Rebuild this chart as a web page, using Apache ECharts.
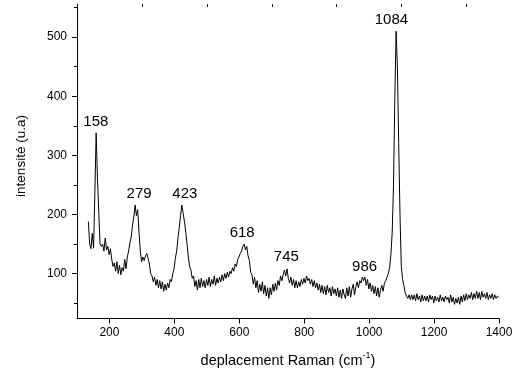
<!DOCTYPE html>
<html>
<head>
<meta charset="utf-8">
<script src="https://cdn.jsdelivr.net/npm/echarts@6/dist/echarts.min.js"></script>
<style>
  html, body { margin: 0; padding: 0; background: #fff; }
  #chart { width: 522px; height: 373px; }
</style>
</head>
<body>
<div id="chart"></div>
<script>
// Raman spectrum: sampled every RAMAN_STEP cm-1 starting at RAMAN_START
const RAMAN_START = 135;
const RAMAN_STEP = 4;
const intensity = [
  188, 150, 142, 168, 143, 235, 338, 262, 205, 150,
  146, 150, 138, 160, 140, 146, 132, 142, 124, 112,
  118, 104, 120, 100, 114, 98, 110, 104, 124, 108,
  128, 138, 152, 162, 182, 196, 216, 198, 208, 170,
  138, 120, 128, 122, 130, 134, 126, 116, 100, 96,
  86, 94, 80, 90, 76, 88, 74, 86, 70, 82,
  72, 84, 76, 90, 86, 100, 108, 126, 138, 160,
  178, 198, 216, 202, 188, 170, 150, 128, 112, 106,
  92, 96, 78, 88, 72, 90, 76, 92, 78, 88,
  76, 90, 80, 94, 78, 90, 82, 96, 80, 92,
  84, 94, 86, 98, 88, 100, 92, 102, 94, 104,
  100, 110, 104, 116, 112, 124, 128, 134, 138, 146,
  150, 140, 146, 130, 122, 102, 98, 82, 94, 76,
  88, 68, 82, 70, 86, 66, 80, 62, 76, 58,
  76, 64, 82, 70, 84, 72, 88, 80, 96, 88,
  98, 106, 96, 108, 92, 84, 94, 80, 90, 76,
  88, 76, 86, 78, 90, 82, 92, 84, 96, 88,
  92, 82, 90, 78, 88, 76, 84, 72, 82, 68,
  80, 66, 78, 64, 80, 68, 76, 62, 78, 66,
  74, 62, 76, 60, 72, 58, 74, 64, 58, 76,
  62, 78, 60, 74, 82, 64, 78, 86, 76, 88,
  84, 94, 88, 94, 80, 90, 74, 84, 70, 80,
  66, 78, 62, 76, 60, 72, 80, 70, 84, 88,
  94, 100, 110, 132, 170, 250, 395, 510, 450, 320,
  200, 112, 90, 80, 68, 62, 58, 64, 56, 64,
  56, 64, 54, 66, 56, 62, 52, 64, 54, 62,
  54, 62, 52, 64, 56, 62, 50, 62, 54, 60,
  52, 64, 54, 60, 52, 62, 56, 60, 50, 64,
  52, 60, 48, 58, 50, 60, 48, 62, 52, 64,
  54, 66, 56, 64, 58, 68, 56, 66, 58, 70,
  58, 68, 56, 70, 60, 66, 58, 68, 56, 64,
  58, 66, 56, 64, 58, 62, 60
];

// Annotated band positions (cm-1) and the intensity at each band top
const peakPositions = [158, 279, 423, 618, 745, 986, 1084];
const peakIntensity = [338, 216, 216, 150, 108, 92, 510];

// Axis ticks
const xMajorTicks = [200, 400, 600, 800, 1000, 1200, 1400];
const xMinorTicks = [100, 300, 500, 700, 900, 1100, 1300];
const yMajorTicks = [100, 200, 300, 400, 500];
const yMinorTicks = [50, 150, 250, 350, 450, 550];

const FONT = 'Liberation Sans, Arial, sans-serif';

const spectrum = intensity.map((v, i) => [RAMAN_START + i * RAMAN_STEP, v]);
const peakLabelShift = [0, 4, 3, -3, 0, 0, -5];
const peaks = peakPositions.map((p, i) => ({
  value: [p, peakIntensity[i]],
  label: { offset: [peakLabelShift[i], 0] }
}));

const X_MIN = 100, X_MAX = 1400, Y_MIN = 24, Y_MAX = 551;

const axisBase = {
  type: 'value',
  splitLine: { show: false },
  axisLine: { show: true, onZero: false, lineStyle: { color: '#000', width: 1 } }
};
const plainNumber = (v) => String(v);

const chart = echarts.init(document.getElementById('chart'), null, { renderer: 'canvas' });
chart.setOption({
  animation: false,
  backgroundColor: '#fff',
  grid: { left: 77, right: 23, top: 7, bottom: 52, containLabel: false },
  xAxis: [
    Object.assign({}, axisBase, {
      min: X_MIN, max: X_MAX,
      axisTick: { show: true, inside: false, length: 5, customValues: xMajorTicks, lineStyle: { color: '#000' } },
      axisLabel: { show: true, customValues: xMajorTicks, formatter: plainNumber, margin: 8, color: '#000', fontSize: 12, fontFamily: FONT },
      name: '{t|deplacement Raman (cm}{s|-1}{t|)}',
      nameLocation: 'middle',
      nameGap: 33,
      nameTextStyle: {
        rich: {
          t: { fontSize: 14.5, fontFamily: FONT, color: '#000', lineHeight: 18 },
          s: { fontSize: 9, fontFamily: FONT, color: '#000', lineHeight: 9, verticalAlign: 'top' }
        }
      }
    }),
    Object.assign({}, axisBase, {
      min: X_MIN, max: X_MAX,
      axisLine: { show: false, onZero: false },
      axisTick: { show: true, inside: false, length: 3, customValues: xMinorTicks, lineStyle: { color: '#000' } },
      axisLabel: { show: false }
    })
  ],
  yAxis: [
    Object.assign({}, axisBase, {
      min: Y_MIN, max: Y_MAX,
      axisTick: { show: true, inside: false, length: 5, customValues: yMajorTicks, lineStyle: { color: '#000' } },
      axisLabel: { show: true, customValues: yMajorTicks, formatter: plainNumber, margin: 10, color: '#000', fontSize: 12, fontFamily: FONT }
    }),
    Object.assign({}, axisBase, {
      position: 'left',
      min: Y_MIN, max: Y_MAX,
      axisLine: { show: false, onZero: false },
      axisTick: { show: true, inside: false, length: 3, customValues: yMinorTicks, lineStyle: { color: '#000' } },
      axisLabel: { show: false }
    })
  ],
  graphic: [{
    type: 'text',
    x: 21, y: 156,
    rotation: Math.PI / 2,
    style: {
      text: 'intensité (u.a)',
      fill: '#000',
      font: '13.5px ' + FONT,
      textAlign: 'center',
      textVerticalAlign: 'middle'
    }
  }],
  series: [
    {
      type: 'line',
      data: spectrum,
      showSymbol: false,
      symbol: 'none',
      lineStyle: { color: '#000', width: 1 },
      silent: true
    },
    {
      type: 'scatter',
      data: peaks,
      symbolSize: 0,
      silent: true,
      itemStyle: { opacity: 1, color: '#000' },
      label: {
        show: true,
        position: 'top',
        distance: 4,
        color: '#000',
        opacity: 1,
        fontSize: 15,
        fontFamily: FONT,
        formatter: (p) => String(p.value[0])
      }
    }
  ]
});
</script>
</body>
</html>
